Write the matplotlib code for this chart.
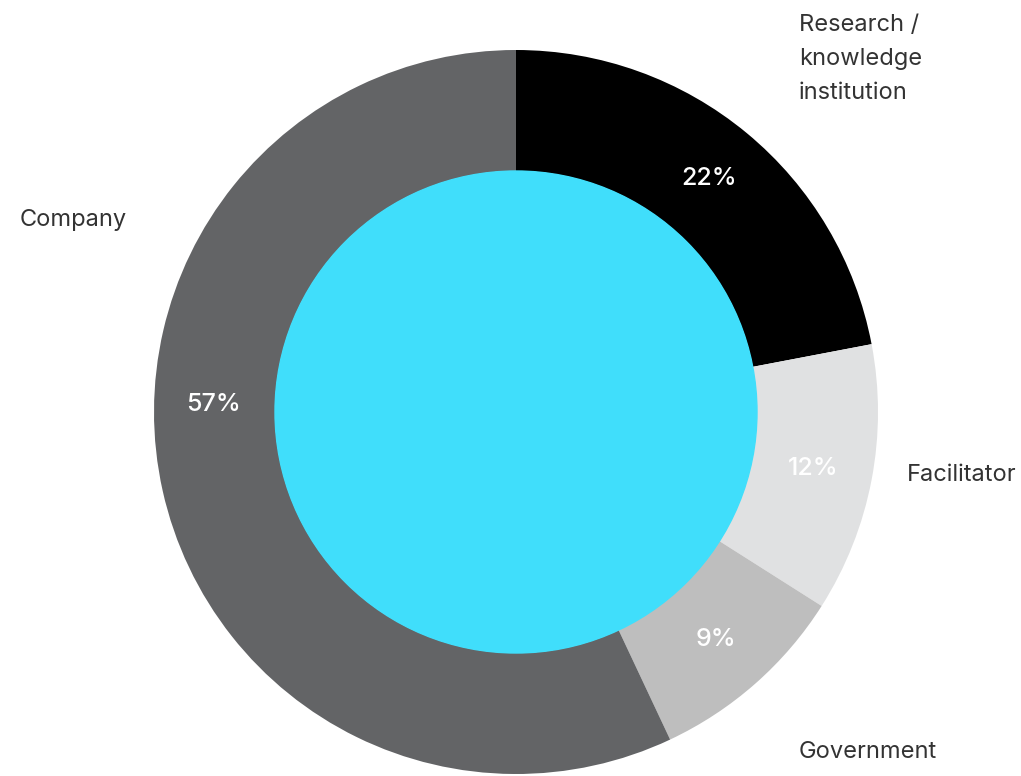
import matplotlib
matplotlib.use("Agg")
import matplotlib.pyplot as plt
import numpy as np

categories = ["Research /\nknowledge\ninstitution", "Facilitator", "Government", "Company"]
values = [22, 12, 9, 57]
colors = ["#000000", "#e0e1e2", "#bebebe", "#636466"]
center_color = "#40defb"

plt.rcParams['font.family'] = ['Inter', 'DejaVu Sans']

W, H = 1021, 776
fig = plt.figure(figsize=(W / 100, H / 100), dpi=100)
ax = fig.add_axes([0, 0, 1, 1])
ax.axis('off')

cx, cy = 516, H - 412
R_out, R_in = 362, 241

wedges, _ = ax.pie(values, colors=colors, startangle=90, counterclock=False,
                   radius=R_out, center=(cx, cy),
                   wedgeprops=dict(width=R_out - R_in, linewidth=0))
ax.add_patch(plt.Circle((cx, cy), R_in, color=center_color, zorder=3))
ax.set_xlim(0, W)
ax.set_ylim(0, H)
ax.set_aspect('equal')

# percentage labels
total = sum(values)
cum = 0
r_lab = 303
for i, v in enumerate(values):
    mid = (cum + v / 2) / total * 360
    cum += v
    if v == max(values):
        mid = 271.5
    a = np.deg2rad(mid)
    x = cx + r_lab * np.sin(a)
    y = cy + r_lab * np.cos(a)
    ax.text(x, y, f"{v}%", ha='center', va='center', color='white',
            fontsize=18, fontweight='medium', zorder=4)

# category labels
lab_color = "#333333"
fs = 17
ax.text(799, H - 59, categories[0], ha='left', va='center', color=lab_color,
        fontsize=fs, linespacing=1.7)
ax.text(907, H - 475, categories[1], ha='left', va='center', color=lab_color, fontsize=fs)
ax.text(799, H - 752, categories[2], ha='left', va='center', color=lab_color, fontsize=fs)
ax.text(20, H - 220, categories[3], ha='left', va='center', color=lab_color, fontsize=fs)

fig.savefig("out.png", dpi=100)
